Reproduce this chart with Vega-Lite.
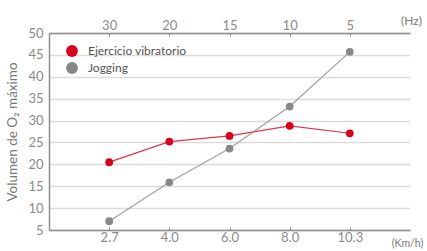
{
  "$schema": "https://vega.github.io/schema/vega-lite/v6.json",
  "width": 361,
  "height": 197,
  "autosize": {"type": "none"},
  "padding": {"left": 49, "top": 33, "right": 17, "bottom": 21},
  "background": "white",
  "config": {
    "view": {"stroke": null},
    "font": "Lato",
    "axis": {"labelColor": "#8a8a8a", "labelFont": "Lato", "labelFontSize": 13, "domainColor": "#8c8c8c", "domainWidth": 1.5, "tickColor": "#8c8c8c", "titleFont": "Lato", "titleFontWeight": "normal", "titleColor": "#777", "labelOverlap": false},
    "axisY": {"labelOverlap": false, "tickCount": 10}
  },
  "data": {
    "values": [
      {"kmh": "2.7", "hz": "30", "serie": "Ejercicio vibratorio", "vo2": 20.5},
      {"kmh": "4.0", "hz": "20", "serie": "Ejercicio vibratorio", "vo2": 25.2},
      {"kmh": "6.0", "hz": "15", "serie": "Ejercicio vibratorio", "vo2": 26.5},
      {"kmh": "8.0", "hz": "10", "serie": "Ejercicio vibratorio", "vo2": 28.8},
      {"kmh": "10.3", "hz": "5", "serie": "Ejercicio vibratorio", "vo2": 27.1},
      {"kmh": "2.7", "hz": "30", "serie": "Jogging", "vo2": 7.0},
      {"kmh": "4.0", "hz": "20", "serie": "Jogging", "vo2": 15.9},
      {"kmh": "6.0", "hz": "15", "serie": "Jogging", "vo2": 23.6},
      {"kmh": "8.0", "hz": "10", "serie": "Jogging", "vo2": 33.2},
      {"kmh": "10.3", "hz": "5", "serie": "Jogging", "vo2": 45.7}
    ]
  },
  "layer": [
    {
      "mark": {"type": "line", "strokeWidth": 1.2, "opacity": 0.8},
      "encoding": {
        "x": {"field": "kmh", "type": "ordinal", "sort": null,
          "scale": {"type": "point", "padding": 1},
          "axis": {"orient": "bottom", "labelAngle": 0, "labelPadding": 4, "tickSize": -3, "grid": false,
            "title": "(Km/h)", "titleFontSize": 10.5, "titleX": 358, "titleY": 13, "titleAlign": "center", "titleBaseline": "middle", "titleAnchor": null}},
        "y": {"field": "vo2", "type": "quantitative",
          "scale": {"domain": [5, 50], "nice": false, "zero": false},
          "axis": {"values": [5, 10, 15, 20, 25, 30, 35, 40, 45, 50], "tickCount": 10, "labelOverlap": false, "grid": true, "gridColor": "#dcdcdc", "gridWidth": 1.3, "ticks": false, "labelPadding": 6,
            "title": "Volumen de O₂ máximo", "titleFontSize": 13.5, "titlePadding": 8}},
        "color": {"field": "serie", "type": "nominal",
          "scale": {"domain": ["Ejercicio vibratorio", "Jogging"], "range": ["#d9001b", "#888888"]},
          "legend": {"orient": "none", "legendX": 17, "legendY": 12, "title": null, "symbolType": "circle", "symbolSize": 140, "symbolStrokeWidth": 0, "symbolOpacity": 1, "labelFontSize": 12, "labelColor": "#555", "labelFont": "Lato", "rowPadding": 5, "labelOffset": 10}}
      }
    },
    {
      "mark": {"type": "point", "filled": true, "opacity": 1, "size": 60},
      "encoding": {
        "x": {"field": "kmh", "type": "ordinal", "sort": null, "scale": {"type": "point", "padding": 1}, "axis": null},
        "y": {"field": "vo2", "type": "quantitative"},
        "color": {"field": "serie", "type": "nominal"}
      }
    },
    {
      "mark": {"type": "point", "opacity": 0},
      "encoding": {
        "x": {"field": "hz", "type": "ordinal", "sort": null,
          "scale": {"type": "point", "padding": 1},
          "axis": {"orient": "top", "labelAngle": 0, "labelPadding": 4, "tickSize": -3, "grid": false,
            "title": "(Hz)", "titleFontSize": 12, "titleX": 362, "titleY": -13, "titleAlign": "center", "titleBaseline": "middle", "titleAnchor": null}},
        "y": {"field": "vo2", "type": "quantitative"}
      }
    }
  ],
  "resolve": {"scale": {"x": "independent"}}
}
